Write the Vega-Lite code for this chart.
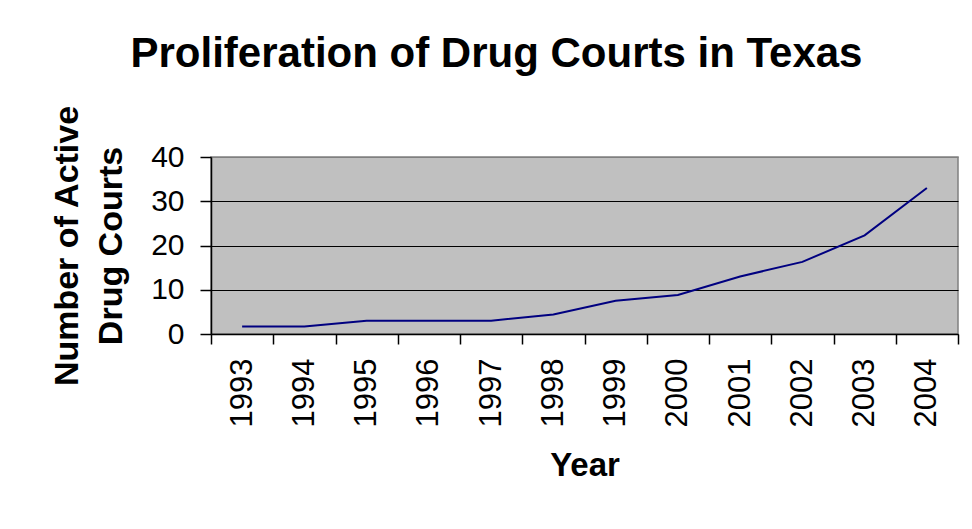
{
  "$schema": "https://vega.github.io/schema/vega-lite/v6.json",
  "autosize": {"type": "none"},
  "padding": {"left": 211, "top": 157, "right": 14, "bottom": 195},
  "width": 747,
  "height": 177,
  "background": "white",
  "title": {
    "text": "Proliferation of Drug Courts in Texas",
    "font": "Liberation Sans",
    "fontSize": 42,
    "fontWeight": "bold",
    "color": "black",
    "anchor": "middle",
    "frame": "group",
    "dx": -88,
    "offset": 29
  },
  "data": {
    "values": [
      {"Year": 1993, "Courts": 1.7},
      {"Year": 1994, "Courts": 1.7},
      {"Year": 1995, "Courts": 3},
      {"Year": 1996, "Courts": 3},
      {"Year": 1997, "Courts": 3},
      {"Year": 1998, "Courts": 4.4},
      {"Year": 1999, "Courts": 7.5},
      {"Year": 2000, "Courts": 8.8},
      {"Year": 2001, "Courts": 13},
      {"Year": 2002, "Courts": 16.3},
      {"Year": 2003, "Courts": 22.3},
      {"Year": 2004, "Courts": 33}
    ]
  },
  "mark": {"type": "line", "color": "#000080", "strokeWidth": 2},
  "encoding": {
    "x": {
      "field": "Year",
      "type": "quantitative",
      "scale": {"domain": [1992.5, 2004.5], "nice": false, "zero": false},
      "axis": {
        "values": [1992.5, 1993.5, 1994.5, 1995.5, 1996.5, 1997.5, 1998.5, 1999.5, 2000.5, 2001.5, 2002.5, 2003.5, 2004.5],
        "labelExpr": "datum.value > 2004 ? '' : format(datum.value + 0.5, 'd')",
        "labelOffset": 31,
        "labelAngle": 270,
        "labelFont": "Liberation Sans",
        "labelFontSize": 31,
        "labelColor": "black",
        "labelPadding": 14,
        "labelFlush": false,
        "labelOverlap": false,
        "grid": false,
        "domainColor": "black",
        "domainWidth": 1.5,
        "tickColor": "black",
        "tickWidth": 1.5,
        "tickSize": 10,
        "title": "Year",
        "titleFont": "Liberation Sans",
        "titleFontSize": 33,
        "titleFontWeight": "bold",
        "titleColor": "black",
        "titlePadding": 23
      }
    },
    "y": {
      "field": "Courts",
      "type": "quantitative",
      "scale": {"domain": [0, 40], "nice": false},
      "axis": {
        "values": [0, 10, 20, 30, 40],
        "labelFont": "Liberation Sans",
        "labelFontSize": 30,
        "labelColor": "black",
        "labelPadding": 16,
        "grid": true,
        "gridColor": {"condition": {"test": "datum.value == 40", "value": "#808080"}, "value": "black"},
        "gridWidth": 1.2,
        "domainColor": "black",
        "domainWidth": 1.5,
        "tickColor": "black",
        "tickWidth": 1.5,
        "tickSize": 11,
        "title": ["Number of Active", "Drug Courts"],
        "titleFont": "Liberation Sans",
        "titleFontSize": 34,
        "titleFontWeight": "bold",
        "titleColor": "black",
        "titleLineHeight": 44,
        "titlePadding": 22
      }
    }
  },
  "config": {
    "view": {"fill": "#C0C0C0", "stroke": "#808080", "strokeWidth": 1.5}
  }
}
